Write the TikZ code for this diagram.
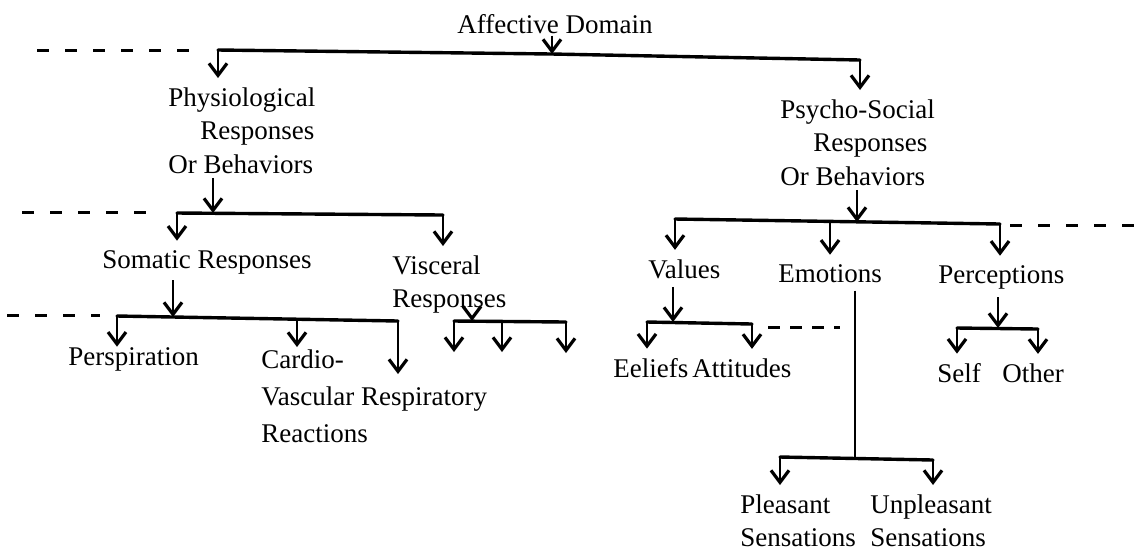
\documentclass[tikz,border=0pt]{standalone}
\usepackage{fontspec}
\setmainfont{Liberation Serif}
\usetikzlibrary{arrows.meta}
\tikzset{
  lbl/.style={inner sep=0pt, font=\fontsize{13.5}{16.75}\selectfont, align=left},
  bar/.style={line width=1.7pt, line cap=round, line join=round},
  arr/.style={line width=1.2pt, shorten >=4.5pt, -{Straight Barb[length=6pt,width=9pt,line width=1.6pt]}},
  plain/.style={line width=1.1pt},
  dashline/.style={line width=1.5pt, dash pattern=on 6pt off 8pt},
}
\begin{document}
\begin{tikzpicture}[x=0.5pt,y=-0.5pt]
\useasboundingbox (0,0) rectangle (1134,554);
% ---- nodes ----
\node[lbl, anchor=base west] (aff) at (457,33) {Affective Domain};
\node[lbl, anchor=north west] (phys) at (168,87) {Physiological\\\hspace{16pt}Responses\\Or Behaviors};
\node[lbl, anchor=north west] (psy) at (780,99) {Psycho-Social\\\hspace{16.5pt}Responses\\Or Behaviors};
\node[lbl, anchor=base west] (soma) at (102,268) {Somatic Responses};
\node[lbl, anchor=north west] (visc) at (392,255) {Visceral\\Responses};
\node[lbl, anchor=base west] (persp) at (68,365) {Perspiration};
\node[lbl, anchor=north west, font=\fontsize{13.5}{18.5}\selectfont] (cardio) at (261,349) {Cardio-\\Vascular Respiratory\\Reactions};
\node[lbl, anchor=base west] (values) at (648,278) {Values};
\node[lbl, anchor=base west] (emo) at (778,282) {Emotions};
\node[lbl, anchor=base west] (perc) at (938,283) {Perceptions};
\node[lbl, anchor=base west] (beliefs) at (613,377) {Eeliefs};
\node[lbl, anchor=base west] (attit) at (692,377) {Attitudes};
\node[lbl, anchor=north west] (pleas) at (740,494) {Pleasant\\Sensations};
\node[lbl, anchor=north west] (unpl) at (870,494) {Unpleasant\\Sensations};
\node[lbl, anchor=base west] (self) at (937,382) {Self};
\node[lbl, anchor=base west] (other) at (1002,382) {Other};
% ---- bar coordinates ----
\coordinate (b1L) at (218,50); \coordinate (b1M) at (552,54); \coordinate (b1R) at (860,60);
\coordinate (b2L) at (177,213); \coordinate (b2M) at (213,213); \coordinate (b2R) at (443,215);
\coordinate (b3L) at (117,316); \coordinate (b3M) at (173,317); \coordinate (b3C) at (297,319); \coordinate (b3R) at (398,321);
\coordinate (b3Re) at (398,374);
\coordinate (vL) at (454,321); \coordinate (vM) at (472,321); \coordinate (vC) at (502,322); \coordinate (vR) at (566,322);
\coordinate (vLe) at (454,352); \coordinate (vCe) at (502,352); \coordinate (vRe) at (566,353);
\coordinate (b4L) at (675,219); \coordinate (b4M) at (857,222); \coordinate (b4C) at (830,221); \coordinate (b4R) at (1000,224);
\coordinate (b5L) at (647,322); \coordinate (b5M) at (673,322); \coordinate (b5R) at (752,324);
\coordinate (b6L) at (780,457); \coordinate (b6M) at (855,458); \coordinate (b6R) at (933,460);
\coordinate (b7L) at (957,328); \coordinate (b7M) at (998,328); \coordinate (b7R) at (1038,329);
% ---- dashed guide lines ----
\draw[dashline] (37,50) -- (195,50);
\draw[dashline] (22,212) -- (152,212);
\draw[dashline] (7,315) -- (100,315);
\draw[dashline] (1010,225) -- (1134,225);
\draw[dashline, dash pattern=on 6pt off 5pt] (768,327) -- (840,327);
% ---- level 1 ----
\draw[arr, shorten >=0pt] ([yshift=-1pt]aff.south -| b1M) -- (b1M);
\draw[bar] (b1L) -- (b1M) -- (b1R);
\draw[arr] (b1L) -- (b1L |- phys.north);
\draw[arr] (b1R) -- (b1R |- psy.north);
% ---- physiological ----
\draw[arr, shorten >=0pt] ([yshift=-2pt]phys.south -| b2M) -- (b2M);
\draw[bar] (b2L) -- (b2R);
\draw[arr] (b2L) -- (b2L |- soma.north);
\draw[arr] (b2R) -- (b2R |- visc.north);
\draw[arr, shorten >=0pt] ([yshift=-3pt]soma.south -| b3M) -- (b3M);
\draw[bar] (b3L) -- (b3R);
\draw[arr, shorten >=0pt] (b3L) -- (b3L |- persp.north);
\draw[arr, shorten >=1pt] (b3C) -- (b3C |- cardio.north);
\draw[arr, shorten >=0pt] (b3R) -- (b3Re);
\draw[arr, shorten >=0pt] ([yshift=-1pt]visc.south -| vM) -- (vM);
\draw[bar] (vL) -- (vR);
\draw[arr, shorten >=0pt] (vL) -- (vLe);
\draw[arr, shorten >=0pt] (vC) -- (vCe);
\draw[arr, shorten >=0pt] (vR) -- (vRe);
% ---- psycho-social ----
\draw[arr, shorten >=0pt] ([yshift=-2pt]psy.south -| b4M) -- (b4M);
\draw[bar] (b4L) -- (b4R);
\draw[arr] (b4L) -- (b4L |- values.north);
\draw[arr] (b4C) -- (b4C |- emo.north);
\draw[arr] (b4R) -- (b4R |- perc.north);
\draw[arr, shorten >=0pt] ([yshift=-4pt]values.south -| b5M) -- (b5M);
\draw[bar] (b5L) -- (b5R);
\draw[arr] (b5L) -- (b5L |- beliefs.north);
\draw[arr] (b5R) -- (b5R |- attit.north);
\draw[plain] ([yshift=-4pt]emo.south -| b6M) -- (b6M);
\draw[bar] (b6L) -- (b6R);
\draw[arr] (b6L) -- (b6L |- pleas.north);
\draw[arr] (b6R) -- (b6R |- unpl.north);
\draw[arr, shorten >=0pt] ([yshift=-4pt]perc.south -| b7M) -- (b7M);
\draw[bar] (b7L) -- (b7R);
\draw[arr] (b7L) -- (b7L |- self.north);
\draw[arr] (b7R) -- (b7R |- other.north);
\end{tikzpicture}
\end{document}
